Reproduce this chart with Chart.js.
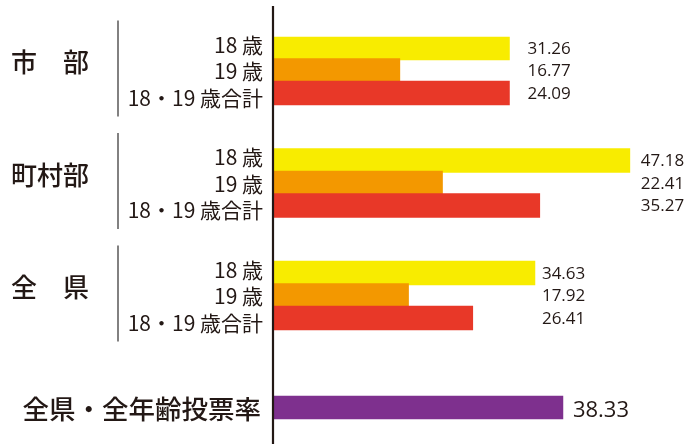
<!DOCTYPE html>
<html lang="ja">
<head>
<meta charset="utf-8">
<script src="https://cdn.jsdelivr.net/npm/chart.js@4.4.1/dist/chart.umd.min.js"></script>
<style>
  html, body { margin: 0; padding: 0; background: #ffffff; }
  #wrap { width: 692px; height: 444px; }
</style>
</head>
<body>
<div id="wrap"><canvas id="c" width="692" height="444"></canvas></div>
<script>
// ---- data ----
const groups = ['市　部', '町村部', '全　県'];
const ageLabels = ['18 歳', '19 歳', '18・19 歳合計'];
const age18 = [31.26, 47.18, 34.63];
const age19 = [16.77, 22.41, 17.92];
const ageTotal = [24.09, 35.27, 26.41];          // printed values
const ageTotalBar = [31.26, 35.27, 26.41];       // bar lengths as drawn in the reference (市部 bar drawn to 31.26)
const overallLabel = '全県・全年齢投票率';
const overallRate = 38.33;

// ---- styling ----
const colors = ['#f8ec00', '#f39800', '#e83828'];
const overallColor = '#7e308e';
const textColor = '#231815';
const valueGap = [18, 11, 7, 10];

// ---- build rows: 3 groups of 3 bars with gaps, then the overall bar ----
const rowCount = 17;
const groupBase = [0, 5, 10];
const overallIndex = 16;
const rows = [], values = [], barColors = [];
for (let i = 0; i < rowCount; i++) { rows.push('r' + i); values.push(null); barColors.push('rgba(0,0,0,0)'); }
const seriesBar = [age18, age19, ageTotalBar];
groups.forEach((g, gi) => {
  for (let k = 0; k < 3; k++) {
    values[groupBase[gi] + k] = seriesBar[k][gi];
    barColors[groupBase[gi] + k] = colors[k];
  }
});
values[overallIndex] = overallRate;
barColors[overallIndex] = overallColor;

const decorations = {
  id: 'decorations',
  afterDatasetsDraw(chart) {
    const ctx = chart.ctx;
    const xs = chart.scales.x, ys = chart.scales.y;
    const x0 = xs.getPixelForValue(0);
    ctx.save();
    // vertical axis line
    ctx.strokeStyle = textColor;
    ctx.lineWidth = 2.2;
    ctx.beginPath();
    ctx.moveTo(x0, 6);
    ctx.lineTo(x0, 444);
    ctx.stroke();

    const printed = [age18, age19, ageTotal];
    groups.forEach((g, gi) => {
      const mid = ys.getPixelForValue(groupBase[gi] + 1);
      // bracket line
      ctx.strokeStyle = '#595757';
      ctx.lineWidth = 1.5;
      ctx.beginPath();
      ctx.moveTo(118, mid - 50);
      ctx.lineTo(118, mid + 46);
      ctx.stroke();
      // group label
      ctx.fillStyle = textColor;
      ctx.font = '500 26px "Noto Sans CJK JP"';
      ctx.textAlign = 'left';
      ctx.textBaseline = 'middle';
      ctx.fillText(g, 11, mid - 8);
      // age labels
      ctx.font = '400 21px "Noto Sans CJK JP"';
      ctx.textAlign = 'right';
      ageLabels.forEach((a, k) => {
        ctx.fillText(a, 263, mid + (k - 1) * 26.5 + 1);
      });
      // value labels
      const gmax = Math.max(seriesBar[0][gi], seriesBar[1][gi], seriesBar[2][gi]);
      const vx = xs.getPixelForValue(gmax) + valueGap[gi];
      ctx.font = '400 17px "Open Sans"';
      ctx.textAlign = 'left';
      for (let k = 0; k < 3; k++) {
        const y = ys.getPixelForValue(groupBase[gi] + k);
        ctx.fillText(printed[k][gi].toFixed(2), vx, y + 1);
      }
    });
    // overall
    const oy = ys.getPixelForValue(overallIndex);
    ctx.fillStyle = textColor;
    ctx.font = '500 26.5px "Noto Sans CJK JP"';
    ctx.textAlign = 'right';
    ctx.textBaseline = 'middle';
    ctx.fillText(overallLabel, 261, oy + 1);
    ctx.font = '400 22px "Open Sans"';
    ctx.textAlign = 'left';
    ctx.fillText(overallRate.toFixed(2), xs.getPixelForValue(overallRate) + valueGap[3], oy + 3);
    ctx.restore();
  }
};

new Chart(document.getElementById('c'), {
  type: 'bar',
  data: {
    labels: rows,
    datasets: [{
      data: values,
      backgroundColor: barColors,
      borderWidth: 0,
      barThickness: 24,
      skipNull: true
    }]
  },
  options: {
    indexAxis: 'y',
    responsive: false,
    animation: false,
    layout: { padding: { left: 273, right: 3, top: 36.75, bottom: 24.75 } },
    scales: {
      x: { display: false, min: 0, max: 55 },
      y: { display: false }
    },
    plugins: { legend: { display: false }, tooltip: { enabled: false } }
  },
  plugins: [decorations]
});
</script>
</body>
</html>
